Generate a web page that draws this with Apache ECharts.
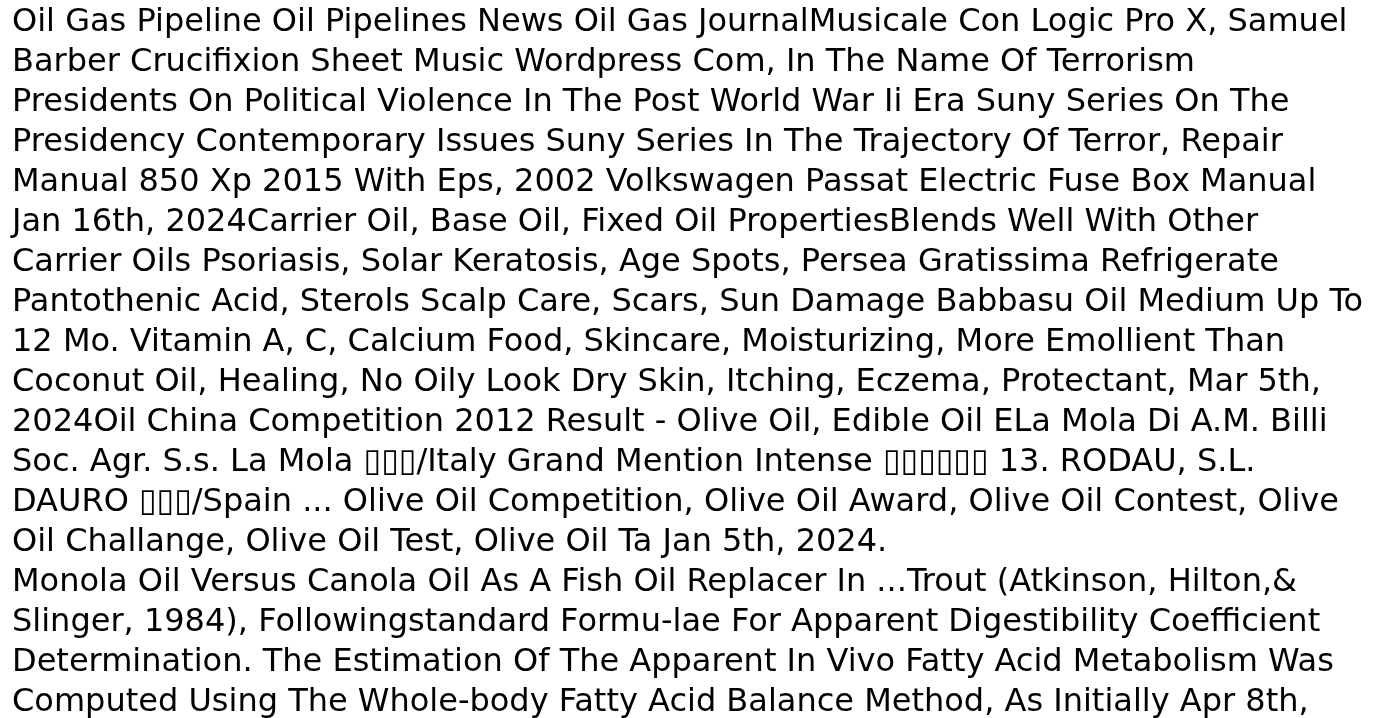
<!DOCTYPE html>
<html>
<head>
<meta charset="utf-8">
<script src="https://cdn.jsdelivr.net/npm/echarts@6/dist/echarts.min.js"></script>
<style>
html,body{margin:0;padding:0;background:#fff;}
#main{width:1390px;height:718px;}
</style>
</head>
<body>
<div id="main"></div>
<script>
const lines = [
  "Oil Gas Pipeline Oil Pipelines News Oil Gas JournalMusicale Con Logic Pro X, Samuel",
  "Barber Crucifixion Sheet Music Wordpress Com, In The Name Of Terrorism",
  "Presidents On Political Violence In The Post World War Ii Era Suny Series On The",
  "Presidency Contemporary Issues Suny Series In The Trajectory Of Terror, Repair",
  "Manual 850 Xp 2015 With Eps, 2002 Volkswagen Passat Electric Fuse Box Manual",
  "Jan 16th, 2024Carrier Oil, Base Oil, Fixed Oil PropertiesBlends Well With Other",
  "Carrier Oils Psoriasis, Solar Keratosis, Age Spots, Persea Gratissima Refrigerate",
  "Pantothenic Acid, Sterols Scalp Care, Scars, Sun Damage Babbasu Oil Medium Up To",
  "12 Mo. Vitamin A, C, Calcium Food, Skincare, Moisturizing, More Emollient Than",
  "Coconut Oil, Healing, No Oily Look Dry Skin, Itching, Eczema, Protectant, Mar 5th,",
  "2024Oil China Competition 2012 Result - Olive Oil, Edible Oil ELa Mola Di A.M. Billi",
  "Soc. Agr. S.s. La Mola \u25AF\u25AF\u25AF/Italy Grand Mention Intense \u25AF\u25AF\u25AF\u25AF\u25AF\u25AF 13. RODAU, S.L.",
  "DAURO \u25AF\u25AF\u25AF/Spain ... Olive Oil Competition, Olive Oil Award, Olive Oil Contest, Olive",
  "Oil Challange, Olive Oil Test, Olive Oil Ta Jan 5th, 2024.",
  "Monola Oil Versus Canola Oil As A Fish Oil Replacer In ...Trout (Atkinson, Hilton,&",
  "Slinger, 1984), Followingstandard Formu-lae For Apparent Digestibility Coefficient",
  "Determination. The Estimation Of The Apparent In Vivo Fatty Acid Metabolism Was",
  "Computed Using The Whole-body Fatty Acid Balance Method, As Initially Apr 8th,"
];

const chart = echarts.init(document.getElementById('main'), null, {renderer: 'canvas'});
const FONT = 32;
const LINE_H = 40;
const LEFT = 12;
const FIRST_BASE = 39;
chart.setOption({
  backgroundColor: '#ffffff',
  animation: false,
  graphic: lines.map((t, i) => ({
    type: 'text',
    x: LEFT,
    y: FIRST_BASE + i * LINE_H,
    silent: true,
    style: {
      text: t,
      fill: '#000000',
      font: FONT + 'px "DejaVu Sans"',
      textAlign: 'left',
      textVerticalAlign: 'bottom',
      verticalAlign: 'bottom'
    }
  }))
});
</script>
</body>
</html>
